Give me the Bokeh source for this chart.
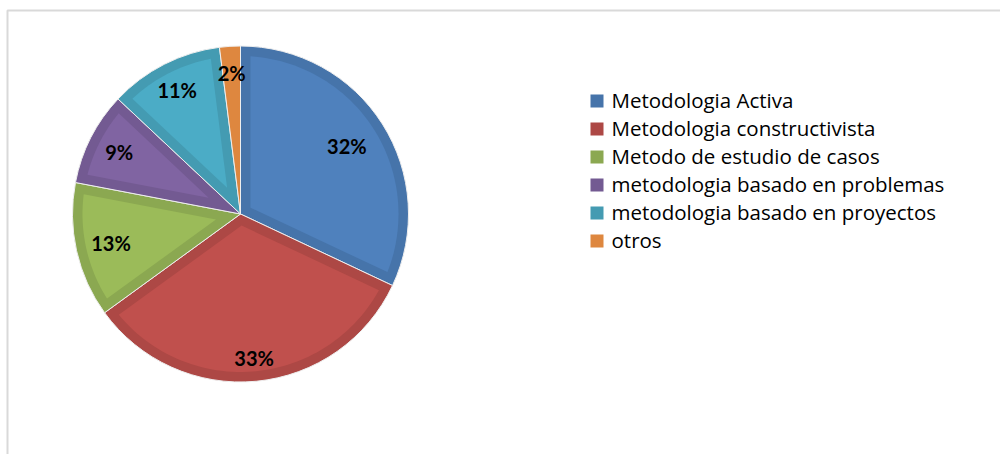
import numpy as np
from bokeh.plotting import figure
from bokeh.models import Range1d, ColumnDataSource
from bokeh.embed import file_html
from bokeh.resources import INLINE
from bokeh.core.properties import value

# ---- data ----
categories = ["Metodologia Activa", "Metodologia constructivista", "Metodo de estudio de casos",
              "metodologia basado en problemas", "metodologia basado en proyectos", "otros"]
values = [32, 33, 13, 9, 11, 2]
labels = ["32%", "33%", "13%", "9%", "11%", "2%"]

# ---- styles / layout ----
colors = ["#4F81BD", "#C0504D", "#9BBB59", "#8064A2", "#4BACC6", "#F79646"]
edge_colors = ["#4674AA", "#AD4845", "#8BA851", "#735A92", "#449BB2", "#DE873F"]
label_radius = [0.75, 0.86, 0.79, 0.81, 0.83, 0.84]

W, H = 1000, 454
OX, OY = 1, 1  # screen position of the figure's top-left corner
WIN_H = 457
p = figure(width=W, height=H, output_backend="svg", toolbar_location=None,
           x_range=Range1d(OX, OX + W), y_range=Range1d(WIN_H - OY - H, WIN_H - OY),
           x_axis_location=None, y_axis_location=None, min_border=0)
p.grid.visible = False
p.outline_line_color = None
p.background_fill_color = "white"
p.border_fill_color = "white"

def sy(y):  # screen y -> data y
    return WIN_H - y

# frame
p.quad(left=[8], right=[1020], top=[sy(11)], bottom=[-20], fill_color=None,
       line_color="#d9d9d9", line_width=2)

cx, cy, R, d = 241, sy(214.5), 168, 10
vals = np.array(values, dtype=float)
frac = vals / vals.sum()
cum = np.concatenate([[0], np.cumsum(frac)])
# clockwise from top -> math angles
start_m = np.pi / 2 - 2 * np.pi * cum[:-1]
end_m = np.pi / 2 - 2 * np.pi * cum[1:]

src = ColumnDataSource(dict(start=end_m, end=start_m, color=edge_colors))
p.wedge(x=cx, y=cy, radius=R, start_angle="start", end_angle="end", source=src,
        fill_color="color", line_color="#eeeeee", line_width=1, direction="anticlock")

# inner lighter areas (bevel effect)
xs, ys, cs = [], [], []
for i in range(len(values)):
    a1, a2 = end_m[i], start_m[i]  # a1 < a2
    h = (a2 - a1) / 2
    apex_r = d / np.sin(h)
    if apex_r >= R - d - 2:
        continue
    delta = np.arcsin(d / (R - d))
    bis = (a1 + a2) / 2
    arc = np.linspace(a1 + delta, a2 - delta, 60)
    px = [cx + apex_r * np.cos(bis)] + list(cx + (R - d) * np.cos(arc))
    py = [cy + apex_r * np.sin(bis)] + list(cy + (R - d) * np.sin(arc))
    xs.append(px); ys.append(py); cs.append(colors[i])
p.patches(xs=xs, ys=ys, fill_color=cs, line_color=None)

# data labels
mid = (start_m + end_m) / 2
lx = cx + np.array(label_radius) * R * np.cos(mid)
ly = cy + np.array(label_radius) * R * np.sin(mid)
p.text(x=lx, y=ly, text=labels, text_font=value("Lato"), text_font_style="bold",
       text_font_size="20px", text_align="center", text_baseline="middle", text_color="black")

# legend
rows = np.arange(len(categories))
leg_y = sy(101.5 + 28 * rows)
p.rect(x=[597.5] * len(categories), y=leg_y, width=13, height=13,
       fill_color=edge_colors, line_color=None)
p.text(x=[612] * len(categories), y=leg_y + 1, text=categories, text_font=value("Open Sans"),
       text_font_size="20.5px", text_align="left", text_baseline="middle", text_color="black")

open("out.html", "w").write(file_html(p, INLINE))
